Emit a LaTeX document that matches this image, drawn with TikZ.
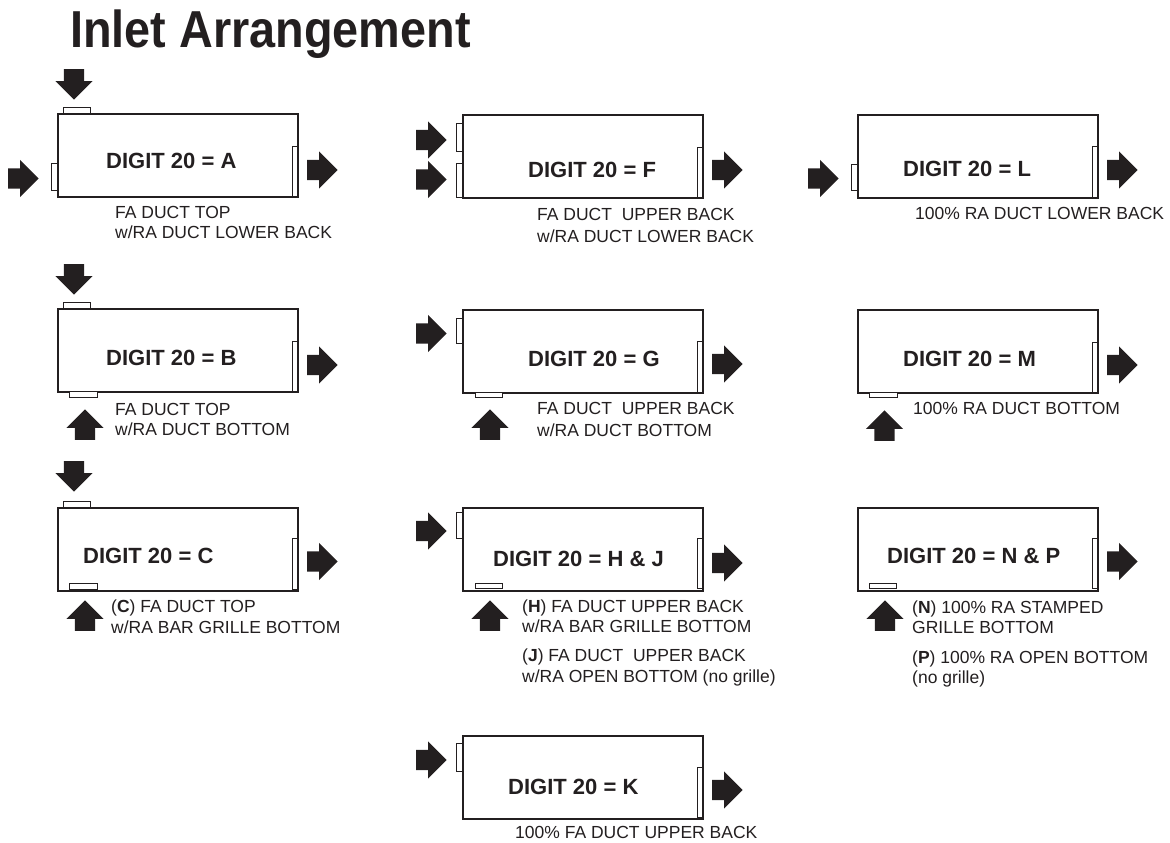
\documentclass[tikz,border=0pt]{standalone}
\usepackage{fontspec}
\setmainfont{Liberation Sans}
\usepackage{tikz}
\usetikzlibrary{shapes.arrows,calc}
\definecolor{inletInk}{RGB}{35,31,32}

\begin{document}
\begin{tikzpicture}[x=1pt, y=-1pt,
  every node/.style={inner sep=0pt, text=inletInk},
  unitbox/.style={draw=inletInk, line width=1.8pt, minimum width=240pt, minimum height=83pt, anchor=north west},
  duct/.style={draw=inletInk, line width=0.8pt, fill=white},
  airarrow/.style={single arrow, fill=inletInk, draw=none, inner sep=10pt, minimum width=37pt,
    minimum height=28pt, single arrow head extend=8.5pt, anchor=tip},
  digit/.style={anchor=base west, font=\fontsize{22}{26}\selectfont\bfseries},
  notetext/.style={anchor=north west, align=left, font=\fontsize{17.5}{20}\selectfont}]
  \useasboundingbox (0,0) rectangle (1170,843);
  % Title
  \node[anchor=base west, xscale=0.9, font=\fontsize{52}{60}\selectfont\bfseries]
    (title) at (70,48) {Inlet Arrangement};
  % Units
  \node[unitbox] (unitA) at (57,113) {};
  \node[unitbox] (unitF) at (462,114) {};
  \node[unitbox] (unitL) at (857,114) {};
  \node[unitbox] (unitB) at (57,308) {};
  \node[unitbox] (unitG) at (462,309) {};
  \node[unitbox] (unitM) at (857,309) {};
  \node[unitbox] (unitC) at (57,507) {};
  \node[unitbox] (unitHJ) at (462,507) {};
  \node[unitbox] (unitNP) at (857,507) {};
  \node[unitbox] (unitK) at (462,735) {};
  % Ducts
  \draw[duct] (63,107) rectangle (90,113);
  \draw[duct] (51,163) rectangle (57,190);
  \draw[duct] (292,146) rectangle (297,196);
  \draw[duct] (456,123) rectangle (462,151);
  \draw[duct] (456,163) rectangle (462,197);
  \draw[duct] (697,147) rectangle (702,197);
  \draw[duct] (851,164) rectangle (857,190);
  \draw[duct] (1092,146) rectangle (1097,197);
  \draw[duct] (63,302) rectangle (90,308);
  \draw[duct] (69,391) rectangle (97,397);
  \draw[duct] (292,341) rectangle (297,391);
  \draw[duct] (456,318) rectangle (462,343);
  \draw[duct] (475,392) rectangle (502,397);
  \draw[duct] (697,341) rectangle (702,392);
  \draw[duct] (869,392) rectangle (897,397);
  \draw[duct] (1092,342) rectangle (1097,392);
  \draw[duct] (63,501) rectangle (90,507);
  \draw[duct] (69,583) rectangle (97,589);
  \draw[duct] (292,538) rectangle (297,589);
  \draw[duct] (456,512) rectangle (462,538);
  \draw[duct] (475,583) rectangle (502,588);
  \draw[duct] (697,538) rectangle (702,588);
  \draw[duct] (869,583) rectangle (896,588);
  \draw[duct] (1092,538) rectangle (1097,588);
  \draw[duct] (456,743) rectangle (462,771);
  \draw[duct] (697,767) rectangle (702,817);
  % Air in
  \node[airarrow, rotate=-90] (inA-top) at (74,100) {};
  \node[airarrow] (inA-back) at (39,178.5) {};
  \node[airarrow] (inF-up) at (447,140) {};
  \node[airarrow] (inF-low) at (447,179.5) {};
  \node[airarrow] (inL) at (839,178.5) {};
  \node[airarrow, rotate=-90] (inB-top) at (74,295) {};
  \node[airarrow, rotate=90] (inB-bot) at (85,409) {};
  \node[airarrow] (inG) at (447,333.5) {};
  \node[airarrow, rotate=90] (inG-bot) at (490,409) {};
  \node[airarrow, rotate=90] (inM) at (884.5,410) {};
  \node[airarrow, rotate=-90] (inC-top) at (74,492) {};
  \node[airarrow, rotate=90] (inC-bot) at (85,600) {};
  \node[airarrow] (inHJ) at (447,531) {};
  \node[airarrow, rotate=90] (inHJ-bot) at (490,600) {};
  \node[airarrow, rotate=90] (inNP) at (885,600) {};
  \node[airarrow] (inK) at (447,760) {};
  % Air out
  \node[airarrow] (outA) at (338,170) {};
  \node[airarrow] (outF) at (743,170) {};
  \node[airarrow] (outL) at (1138,170) {};
  \node[airarrow] (outB) at (338,365) {};
  \node[airarrow] (outG) at (743,364) {};
  \node[airarrow] (outM) at (1138,365) {};
  \node[airarrow] (outC) at (338,561.5) {};
  \node[airarrow] (outHJ) at (743,563) {};
  \node[airarrow] (outNP) at (1138,561.5) {};
  \node[airarrow] (outK) at (743,790) {};
  % Digit labels
  \node[digit] (labA) at (106,168) {DIGIT 20 = A};
  \node[digit] (labF) at (528,177) {DIGIT 20 = F};
  \node[digit] (labL) at (903,176) {DIGIT 20 = L};
  \node[digit] (labB) at (106,365) {DIGIT 20 = B};
  \node[digit] (labG) at (528,366) {DIGIT 20 = G};
  \node[digit] (labM) at (903,366) {DIGIT 20 = M};
  \node[digit] (labC) at (83,563) {DIGIT 20 = C};
  \node[digit] (labHJ) at (493,566) {DIGIT 20 = H \& J};
  \node[digit] (labNP) at (887,563) {DIGIT 20 = N \& P};
  \node[digit] (labK) at (508,794) {DIGIT 20 = K};
  % Notes
  \node[notetext] (noteA) at (115,206.4) {FA DUCT TOP\\w/RA DUCT LOWER BACK};
  \node[notetext] (noteF) at (537,208.4) {FA DUCT\ \ UPPER BACK\\[2pt]w/RA DUCT LOWER BACK};
  \node[notetext] (noteL) at (915,207.4) {100\% RA DUCT LOWER BACK};
  \node[notetext] (noteB) at (115,403.4) {FA DUCT TOP\\w/RA DUCT BOTTOM};
  \node[notetext] (noteG) at (537,402.4) {FA DUCT\ \ UPPER BACK\\[2pt]w/RA DUCT BOTTOM};
  \node[notetext] (noteM) at (913,402.4) {100\% RA DUCT BOTTOM};
  \node[notetext] (noteC) at (111,599.4) {(\textbf{C}) FA DUCT TOP\\[1pt]w/RA BAR GRILLE BOTTOM};
  \node[notetext] (noteHJ) at (522,599.4)
    {(\textbf{H}) FA DUCT UPPER BACK\\w/RA BAR GRILLE BOTTOM\\[9pt](\textbf{J}) FA DUCT\ \ UPPER BACK\\[1pt]w/RA OPEN BOTTOM (no grille)};
  \node[notetext] (noteNP) at (912,600.4)
    {(\textbf{N}) 100\% RA STAMPED\\GRILLE BOTTOM\\[10pt](\textbf{P}) 100\% RA OPEN BOTTOM\\(no grille)};
  \node[notetext] (noteK) at (515,826) {100\% FA DUCT UPPER BACK};
\end{tikzpicture}
\end{document}
